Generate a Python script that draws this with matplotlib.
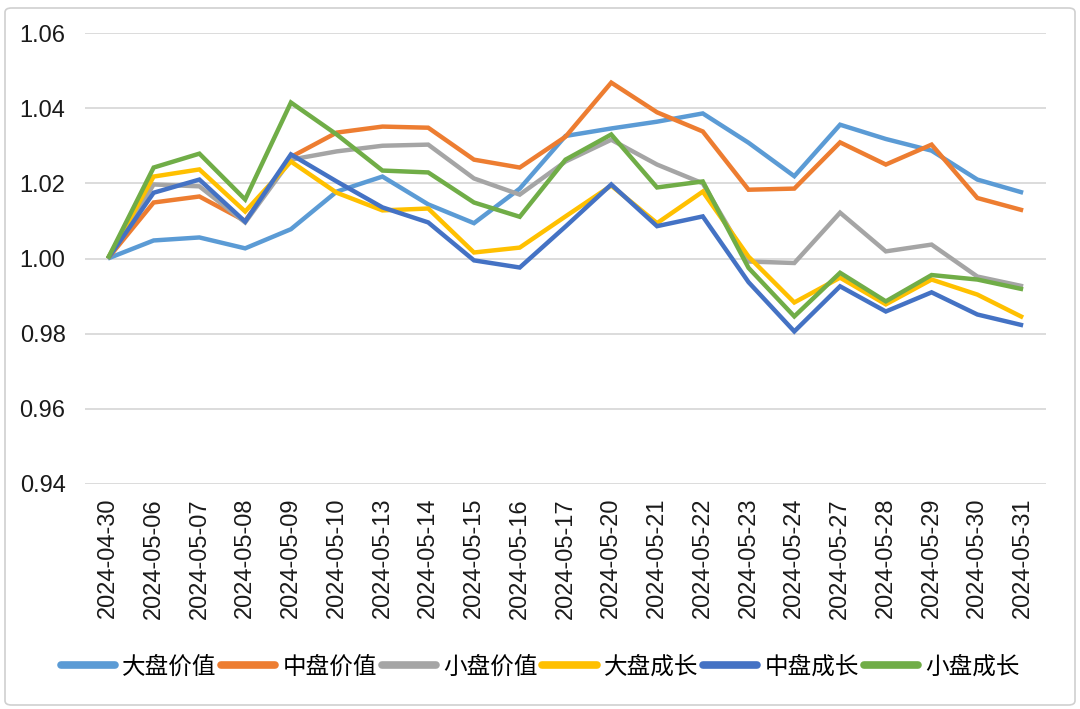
import matplotlib
matplotlib.use("Agg")
import matplotlib.pyplot as plt
from matplotlib.patches import FancyBboxPatch

dates = ["2024-04-30", "2024-05-06", "2024-05-07", "2024-05-08", "2024-05-09",
         "2024-05-10", "2024-05-13", "2024-05-14", "2024-05-15", "2024-05-16",
         "2024-05-17", "2024-05-20", "2024-05-21", "2024-05-22", "2024-05-23",
         "2024-05-24", "2024-05-27", "2024-05-28", "2024-05-29", "2024-05-30",
         "2024-05-31"]

large_value = [1.0000, 1.0048, 1.0056, 1.0027, 1.0078, 1.0178, 1.0218, 1.0144, 1.0094, 1.0186,
               1.0326, 1.0346, 1.0364, 1.0386, 1.0308, 1.0219, 1.0356, 1.0318, 1.0287, 1.0210,
               1.0175]
mid_value = [1.0000, 1.0149, 1.0165, 1.0100, 1.0270, 1.0335, 1.0351, 1.0348, 1.0263, 1.0242,
             1.0324, 1.0468, 1.0389, 1.0338, 1.0183, 1.0186, 1.0309, 1.0250, 1.0303, 1.0161,
             1.0128]
small_value = [1.0000, 1.0197, 1.0192, 1.0096, 1.0263, 1.0285, 1.0300, 1.0303, 1.0213, 1.0170,
               1.0258, 1.0316, 1.0250, 1.0200, 0.9992, 0.9988, 1.0122, 1.0019, 1.0037, 0.9952,
               0.9926]
large_growth = [1.0000, 1.0218, 1.0237, 1.0125, 1.0258, 1.0175, 1.0128, 1.0133, 1.0016, 1.0029,
                1.0112, 1.0194, 1.0094, 1.0178, 1.0005, 0.9883, 0.9949, 0.9878, 0.9944, 0.9904,
                0.9843]
mid_growth = [1.0000, 1.0175, 1.0210, 1.0098, 1.0277, 1.0205, 1.0136, 1.0096, 0.9995, 0.9976,
              1.0085, 1.0197, 1.0086, 1.0112, 0.9937, 0.9806, 0.9926, 0.9859, 0.9910, 0.9851,
              0.9822]
small_growth = [1.0000, 1.0242, 1.0279, 1.0157, 1.0415, 1.0330, 1.0234, 1.0229, 1.0149, 1.0111,
                1.0263, 1.0330, 1.0189, 1.0205, 0.9975, 0.9846, 0.9962, 0.9886, 0.9956, 0.9944,
                0.9918]

series_names = ["大盘价值", "中盘价值", "小盘价值", "大盘成长", "中盘成长", "小盘成长"]
series_values = [large_value, mid_value, small_value, large_growth, mid_growth, small_growth]
colors = ["#5B9BD5", "#ED7D31", "#A5A5A5", "#FFC000", "#4472C4", "#70AD47"]
yticks = [0.94, 0.96, 0.98, 1.00, 1.02, 1.04, 1.06]

plt.rcParams['font.family'] = ['Liberation Sans', 'Noto Sans CJK SC', 'DejaVu Sans']

fig = plt.figure(figsize=(10.8, 7.09), dpi=100)
ax = fig.add_axes([85 / 1080, 1 - 484 / 709, (1046 - 85) / 1080, (484 - 33) / 709])

x = list(range(len(dates)))
for name, vals, c in zip(series_names, series_values, colors):
    ax.plot(x, vals, color=c, lw=3.2, label=name, solid_joinstyle='miter', solid_capstyle='butt')

ax.set_xlim(-0.5, len(dates) - 0.5)
ax.set_ylim(0.94, 1.06)
ax.set_yticks(yticks)
ax.set_yticklabels([f"{v:.2f}" for v in yticks], fontsize=17, color="#1a1a1a")
ax.set_xticks(x)
ax.set_xticklabels(dates, rotation=90, fontsize=17, color="#1a1a1a")
ax.tick_params(axis='both', length=0)
ax.tick_params(axis='x', pad=10)
ax.tick_params(axis='y', pad=14)
ax.grid(axis='y', color="#d9d9d9", lw=1.3)
ax.set_axisbelow(True)
for s in ax.spines.values():
    s.set_visible(False)

leg = fig.legend(loc='center', bbox_to_anchor=(0.5, 1 - 667 / 709), ncol=6, frameon=False,
                 prop={'family': ['Noto Sans CJK SC'], 'size': 17},
                 handlelength=2.3, handletextpad=0.3, columnspacing=0.2)
for h in leg.get_lines():
    h.set_linewidth(5.5)
    h.set_solid_capstyle('round')

frame = FancyBboxPatch((5 / 1080, 4 / 709), 1070 / 1080, 697 / 709,
                       boxstyle="round,pad=0,rounding_size=0.006",
                       transform=fig.transFigure, fill=False, edgecolor="#d0d0d0", lw=1.2)
fig.patches.append(frame)

fig.savefig("out.png", dpi=100)
